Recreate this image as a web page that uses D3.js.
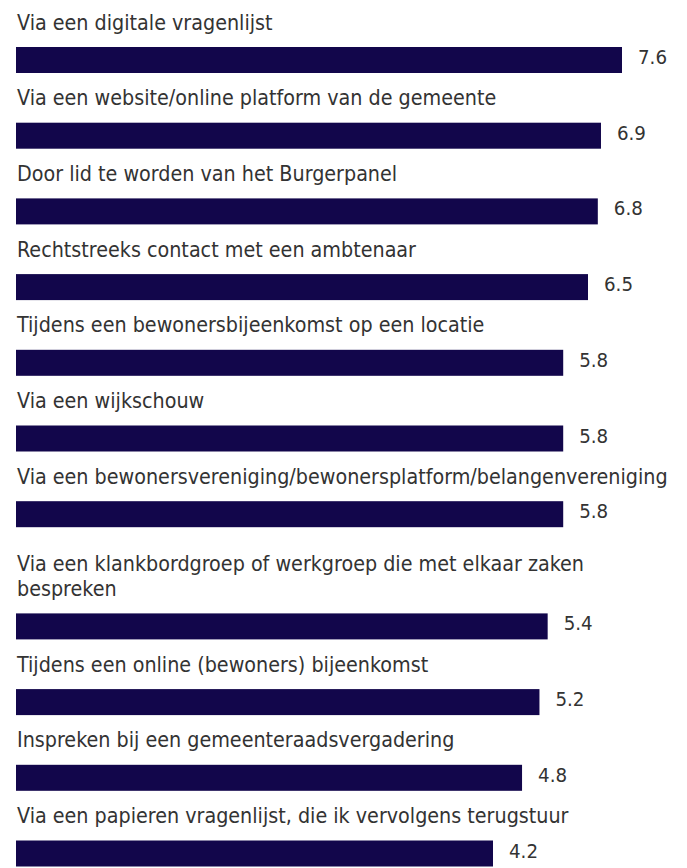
<!DOCTYPE html>
<html>
<head>
<meta charset="utf-8">
<script src="https://cdn.jsdelivr.net/npm/d3@7"></script>
<style>
  body { margin: 0; background: #fff; }
</style>
</head>
<body>
<script>
// answers, in the order shown
var categories = [
    "Via een digitale vragenlijst",
    "Via een website/online platform van de gemeente",
    "Door lid te worden van het Burgerpanel",
    "Rechtstreeks contact met een ambtenaar",
    "Tijdens een bewonersbijeenkomst op een locatie",
    "Via een wijkschouw",
    "Via een bewonersvereniging/bewonersplatform/belangenvereniging",
    "Via een klankbordgroep of werkgroep die met elkaar zaken bespreken",
    "Tijdens een online (bewoners) bijeenkomst",
    "Inspreken bij een gemeenteraadsvergadering",
    "Via een papieren vragenlijst, die ik vervolgens terugstuur"
];
var values = [7.6, 6.9, 6.8, 6.5, 5.8, 5.8, 5.8, 5.4, 5.2, 4.8, 4.2];

var options = {
    width: 687,
    height: 868,
    barColor: "#12064b",
    textColor: "#333333",
    font: "'DejaVu Sans Condensed', 'DejaVu Sans', sans-serif",
    labelSize: 21.3,
    valueSize: 20.3,
    barLeft: 16,
    barHeight: 26,
    lineHeight: 24.5,
    wrapPad: 12,
    wrapWidth: 660
};

var svg = d3.select("body").append("svg")
    .attr("width", options.width)
    .attr("height", options.height);

// bar length scale, fitted to the picture
var x = d3.scaleLog().domain([4.2, 7.6]).range([493, 622]);
// row index -> bar top
var rowY = d3.scaleLinear().domain([0, 1]).range([47, 122.7]);

// split a label into lines that fit the wrap width
var probe = svg.append("text")
    .attr("font-family", options.font)
    .attr("font-size", options.labelSize);
function wrapLabel(str) {
    var words = str.split(" ");
    var lines = [];
    var line = [];
    words.forEach(function(w) {
        line.push(w);
        probe.text(line.join(" "));
        if (probe.node().getComputedTextLength() > options.wrapWidth && line.length > 1) {
            line.pop();
            lines.push(line.join(" "));
            line = [w];
        }
    });
    lines.push(line.join(" "));
    return lines;
}

var extra = 0;
var rows = categories.map(function(c, i) {
    var lines = wrapLabel(c);
    extra += (lines.length - 1) * (options.lineHeight + options.wrapPad);
    return { label: c, lines: lines, value: values[i], top: rowY(i) + extra };
});
probe.remove();

var g = svg.selectAll("g.row")
    .data(rows).enter().append("g")
    .attr("class", "row");

g.append("text")
    .attr("x", 17)
    .attr("font-family", options.font)
    .attr("font-size", options.labelSize)
    .attr("fill", options.textColor)
    .each(function(d) {
        var t = d3.select(this);
        var n = d.lines.length;
        d.lines.forEach(function(l, k) {
            t.append("tspan")
                .attr("x", 17)
                .attr("y", d.top - 17.5 - (n - 1 - k) * options.lineHeight)
                .text(l);
        });
    });

g.append("rect")
    .attr("x", options.barLeft)
    .attr("y", function(d) { return d.top; })
    .attr("width", function(d) { return x(d.value) - options.barLeft; })
    .attr("height", options.barHeight)
    .attr("fill", options.barColor);

g.append("text")
    .attr("x", function(d) { return x(d.value) + 16; })
    .attr("y", function(d) { return d.top + 17; })
    .attr("font-family", options.font)
    .attr("font-size", options.valueSize)
    .attr("fill", options.textColor)
    .text(function(d) { return d3.format(".1f")(d.value); });
</script>
</body>
</html>
